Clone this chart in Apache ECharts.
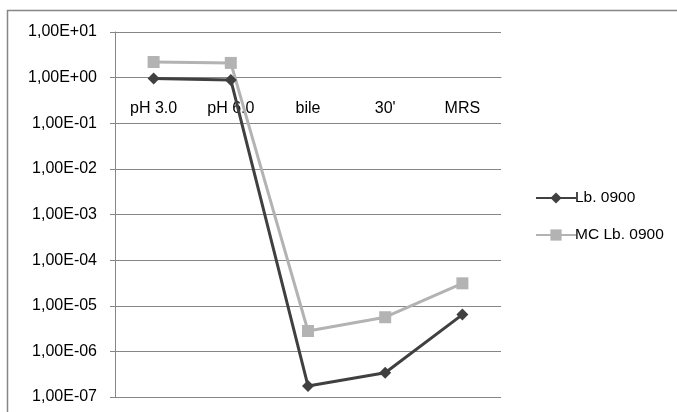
<!DOCTYPE html>
<html><head><meta charset="utf-8">
<script src="https://cdn.jsdelivr.net/npm/echarts@6/dist/echarts.min.js"></script>
<style>html,body{margin:0;padding:0;background:#fff}#c{width:677px;height:412px}</style>
</head><body><div id="c"></div>
<script>
const categories = ["pH 3.0", "pH 6.0", "bile", "30'", "MRS"];
const lb0900 = [0.96, 0.89, 1.75e-7, 3.4e-7, 6.4e-6];
const mcLb0900 = [2.2, 2.1, 2.8e-6, 5.6e-6, 3.1e-5];
const seriesNames = ["Lb. 0900", "MC Lb. 0900"];

function fmt(v) {
  const e = Math.round(Math.log10(v));
  const s = e < 0 ? "-" : "+";
  const a = Math.abs(e);
  return "1,00E" + s + (a < 10 ? "0" + a : a);
}
const chart = echarts.init(document.getElementById('c'));
const F = "Liberation Sans";
chart.setOption({
  animation: false,
  textStyle: {fontFamily: F},
  graphic: [{type: 'rect', shape: {x: 7.5, y: 10.5, width: 720, height: 500}, style: {fill: 'none', stroke: '#868686', lineWidth: 1.5}, silent: true}],
  grid: {left: 115, right: 176, top: 32, bottom: 15, containLabel: false},
  legend: {
    orient: 'vertical', left: 530, top: 185, itemGap: 21, itemWidth: 40, itemHeight: 14,
    textStyle: {fontFamily: F, fontSize: 15.5, color: '#000', padding: [0,0,0,-6]},
    data: seriesNames
  },
  xAxis: {
    type: 'category', data: categories, position: 'top', offset: -45,
    axisLine: {lineStyle: {color: '#868686', width: 1}},
    axisTick: {inside: true, length: 5, lineStyle: {color: '#868686'}},
    axisLabel: {inside: true, margin: 24, color: '#000', fontSize: 16, fontFamily: F, verticalAlign: 'top'},
    splitLine: {show: false}
  },
  yAxis: {
    type: 'log', min: 1e-7, max: 10, logBase: 10, interval: 1,
    axisLine: {show: true, lineStyle: {color: '#868686'}},
    axisTick: {show: true, length: 5, lineStyle: {color: '#868686'}},
    axisLabel: {formatter: fmt, color: '#000', fontSize: 16, fontFamily: F, margin: 18},
    splitLine: {lineStyle: {color: '#868686', width: 1}}
  },
  series: [
    {name: seriesNames[0], type: 'line', data: lb0900, symbol: 'diamond', symbolSize: 12,
     lineStyle: {color: '#404040', width: 3}, itemStyle: {color: '#404040'}, z: 3},
    {name: seriesNames[1], type: 'line', data: mcLb0900, symbol: 'rect', symbolSize: 12,
     lineStyle: {color: '#b3b3b3', width: 3}, itemStyle: {color: '#b3b3b3'}, z: 2}
  ]
});
</script></body></html>
